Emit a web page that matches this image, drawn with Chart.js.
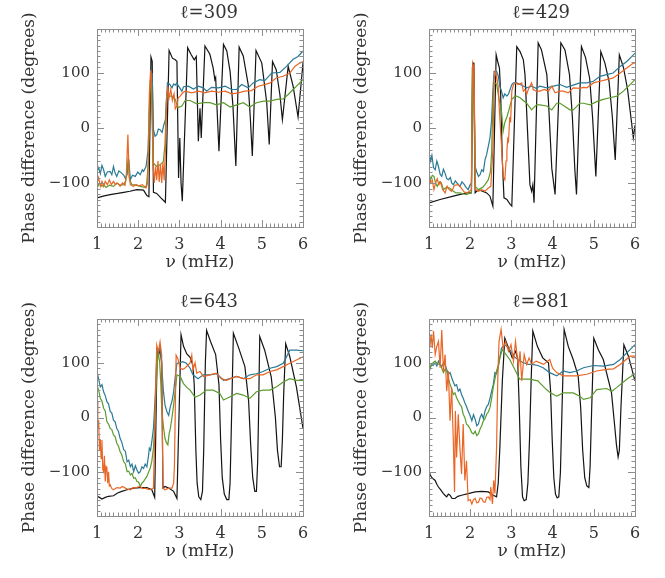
<!DOCTYPE html>
<html><head><meta charset="utf-8">
<script src="https://cdn.jsdelivr.net/npm/chart.js@4.4.1/dist/chart.umd.min.js"></script>
<style>
html,body{margin:0;padding:0;background:#fff;}
#wrap{position:relative;width:665px;height:578px;overflow:hidden;background:#fff;}
canvas{position:absolute;}
</style></head><body>
<div id="wrap">
<canvas id="c0" width="332" height="289" style="left:0px;top:0px"></canvas>
<canvas id="c1" width="333" height="289" style="left:332px;top:0px"></canvas>
<canvas id="c2" width="332" height="289" style="left:0px;top:289px"></canvas>
<canvas id="c3" width="333" height="289" style="left:332px;top:289px"></canvas>
</div>
<script>
// ---------- text / ticks ----------
const PANEL_TITLES = ['\u2113=309', '\u2113=429', '\u2113=643', '\u2113=881'];
const X_TICKS = [1, 2, 3, 4, 5, 6];
const Y_TICKS = [-100, 0, 100];
const X_TITLE = '\u03BD (mHz)';
const Y_TITLE = 'Phase difference (degrees)';

// ---------- data: [frequency mHz, phase difference deg] ----------
// l = 309
const k309 = [[1.00,-127],[1.15,-124],[1.32,-121],[1.50,-119],[1.65,-117],[1.80,-115],[1.97,-112],[2.13,-113],[2.21,-123],[2.26,-125],[2.31,129],[2.34,121],[2.37,-117],[2.45,-119],[2.55,-127],[2.66,-135],[2.75,141],[2.83,127],[2.90,124],[2.94,121],[2.98,-91],[3.01,-18],[3.04,-100],[3.07,-133],[3.20,146],[3.28,134],[3.36,124],[3.41,130],[3.46,-24],[3.50,36],[3.53,-18],[3.62,149],[3.74,134],[3.82,109],[3.86,88],[3.88,92],[3.96,-42],[4.07,152],[4.15,140],[4.23,103],[4.30,40],[4.37,-69],[4.45,147],[4.55,131],[4.67,79],[4.72,20],[4.77,-51],[4.86,141],[5.00,118],[5.12,46],[5.18,-30],[5.26,121],[5.35,106],[5.44,60],[5.50,15],[5.64,112],[5.76,76],[5.88,20],[6.00,118]];
const b309 = [[1.00,-79],[1.04,-72],[1.08,-83],[1.12,-68],[1.16,-76],[1.20,-88],[1.25,-80],[1.32,-79],[1.36,-85],[1.40,-70],[1.44,-82],[1.48,-88],[1.53,-78],[1.60,-82],[1.65,-86],[1.69,-92],[1.73,-85],[1.77,-57],[1.81,-94],[1.86,-86],[1.93,-88],[1.99,-80],[2.05,-85],[2.10,-76],[2.13,-79],[2.19,-70],[2.24,-40],[2.28,60],[2.31,85],[2.34,100],[2.37,-3],[2.41,-15],[2.45,-12],[2.49,-2],[2.53,-3],[2.58,-8],[2.62,5],[2.66,15],[2.71,82],[2.77,79],[2.82,73],[2.86,80],[2.90,78],[2.94,82],[2.98,76],[3.06,67],[3.10,75],[3.22,76],[3.34,71],[3.46,76],[3.58,73],[3.66,67],[3.78,74],[3.95,73],[4.11,76],[4.27,70],[4.39,70],[4.51,79],[4.67,73],[4.79,82],[4.95,88],[5.07,86],[5.24,100],[5.44,101],[5.60,112],[5.76,125],[5.88,130],[6.00,140]];
const o309 = [[1.00,-100],[1.04,-90],[1.08,-106],[1.12,-97],[1.16,-106],[1.20,-97],[1.25,-103],[1.30,-94],[1.35,-103],[1.40,-97],[1.45,-103],[1.50,-100],[1.56,-106],[1.62,-100],[1.68,-104],[1.71,-88],[1.75,-12],[1.78,-88],[1.81,-103],[1.88,-106],[1.95,-103],[2.02,-105],[2.10,-103],[2.19,-109],[2.23,-100],[2.27,60],[2.30,105],[2.32,91],[2.36,-64],[2.39,-100],[2.42,-70],[2.45,-95],[2.48,-60],[2.51,-98],[2.54,-65],[2.57,-100],[2.60,-62],[2.63,-95],[2.66,-40],[2.69,60],[2.72,73],[2.75,55],[2.79,70],[2.83,50],[2.87,62],[2.90,35],[2.94,40],[2.97,55],[3.02,58],[3.08,64],[3.14,67],[3.30,64],[3.46,67],[3.62,64],[3.78,67],[3.95,65],[4.11,67],[4.27,62],[4.43,64],[4.59,67],[4.75,68],[4.91,76],[5.07,79],[5.20,82],[5.35,91],[5.52,94],[5.68,100],[5.80,112],[5.92,118],[6.00,121]];
const g309 = [[1.00,-109],[1.06,-100],[1.12,-106],[1.16,-103],[1.22,-108],[1.30,-104],[1.40,-106],[1.48,-100],[1.56,-104],[1.65,-103],[1.70,-95],[1.73,-76],[1.76,-52],[1.79,-94],[1.85,-103],[1.95,-104],[2.05,-106],[2.15,-108],[2.20,-105],[2.25,-60],[2.29,82],[2.32,76],[2.37,-64],[2.45,-70],[2.53,-67],[2.61,-61],[2.65,-30],[2.69,58],[2.73,58],[2.82,58],[2.90,52],[2.96,37],[3.06,40],[3.14,50],[3.26,50],[3.42,44],[3.58,46],[3.74,46],[3.90,42],[4.07,46],[4.23,38],[4.39,42],[4.55,46],[4.71,38],[4.87,46],[5.04,49],[5.20,49],[5.36,52],[5.52,53],[5.64,61],[5.76,70],[5.88,79],[6.00,88]];

// l = 429
const k429 = [[1.00,-136],[1.27,-130],[1.59,-124],[1.91,-118],[2.03,-118],[2.06,118],[2.09,118],[2.12,-118],[2.20,-112],[2.30,-115],[2.40,-118],[2.48,-124],[2.55,-142],[2.63,133],[2.67,120],[2.71,109],[2.74,60],[2.78,-60],[2.82,-127],[2.89,-130],[2.97,-139],[3.01,-142],[3.13,148],[3.21,139],[3.29,124],[3.33,97],[3.45,-103],[3.49,-115],[3.52,-103],[3.55,-136],[3.65,155],[3.73,142],[3.86,97],[3.90,48],[3.98,-73],[4.06,-121],[4.20,155],[4.30,142],[4.41,97],[4.48,20],[4.54,-76],[4.58,-121],[4.70,148],[4.80,128],[4.90,90],[4.97,20],[5.05,-88],[5.17,139],[5.27,118],[5.37,85],[5.45,20],[5.52,-58],[5.62,133],[5.72,110],[5.82,70],[5.90,20],[5.96,-18],[6.00,5]];
const b429 = [[1.00,-45],[1.04,-60],[1.07,-50],[1.11,-72],[1.15,-76],[1.19,-60],[1.23,-70],[1.27,-84],[1.31,-88],[1.35,-75],[1.39,-82],[1.43,-92],[1.47,-94],[1.52,-90],[1.55,-100],[1.59,-103],[1.64,-96],[1.68,-100],[1.75,-106],[1.80,-98],[1.86,-103],[1.90,-108],[1.95,-112],[2.00,-103],[2.03,-100],[2.06,100],[2.09,90],[2.12,-70],[2.16,-80],[2.20,-88],[2.24,-85],[2.28,-76],[2.32,-79],[2.36,-58],[2.40,-48],[2.44,-33],[2.48,-18],[2.52,15],[2.55,67],[2.58,103],[2.64,103],[2.68,95],[2.72,76],[2.76,67],[2.80,55],[2.84,62],[2.89,58],[2.93,62],[3.01,79],[3.05,82],[3.13,82],[3.21,79],[3.30,76],[3.37,73],[3.49,76],[3.60,72],[3.69,76],[3.86,73],[4.02,76],[4.18,79],[4.34,74],[4.50,78],[4.66,82],[4.83,82],[4.99,85],[5.15,94],[5.31,97],[5.47,100],[5.64,112],[5.80,121],[5.96,133],[6.00,136]];
const o429 = [[1.00,-88],[1.04,-100],[1.08,-95],[1.12,-112],[1.16,-100],[1.20,-92],[1.24,-103],[1.28,-98],[1.33,-112],[1.39,-118],[1.44,-106],[1.49,-112],[1.55,-115],[1.62,-104],[1.71,-103],[1.78,-109],[1.85,-116],[1.92,-118],[1.98,-115],[2.03,-112],[2.06,118],[2.09,110],[2.13,-112],[2.20,-115],[2.28,-112],[2.36,-115],[2.44,-109],[2.50,-106],[2.55,-40],[2.58,88],[2.61,103],[2.64,94],[2.68,76],[2.71,30],[2.74,-9],[2.77,-45],[2.80,-88],[2.84,-94],[2.87,-60],[2.89,-42],[2.91,-20],[2.93,-24],[2.96,20],[2.98,10],[3.01,67],[3.05,79],[3.10,82],[3.17,79],[3.25,82],[3.29,67],[3.33,70],[3.37,61],[3.42,72],[3.49,82],[3.53,70],[3.60,67],[3.69,67],[3.80,70],[3.90,67],[3.98,76],[4.06,64],[4.18,67],[4.26,67],[4.38,64],[4.50,73],[4.66,72],[4.75,74],[4.83,73],[4.99,82],[5.15,85],[5.31,88],[5.47,91],[5.64,100],[5.80,109],[5.96,118],[6.00,118]];
const g429 = [[1.00,-82],[1.04,-94],[1.08,-86],[1.12,-88],[1.16,-100],[1.20,-106],[1.25,-98],[1.30,-100],[1.35,-112],[1.42,-108],[1.50,-109],[1.58,-114],[1.65,-118],[1.75,-118],[1.85,-120],[1.91,-121],[2.00,-118],[2.03,-118],[2.05,106],[2.08,100],[2.12,-106],[2.20,-112],[2.30,-108],[2.36,-103],[2.44,-94],[2.49,-80],[2.52,-45],[2.55,48],[2.58,82],[2.64,80],[2.71,48],[2.76,30],[2.80,-6],[2.84,10],[2.89,20],[2.93,30],[3.01,52],[3.09,58],[3.13,58],[3.21,55],[3.37,45],[3.49,33],[3.53,36],[3.61,42],[3.69,42],[3.86,40],[3.98,33],[4.10,45],[4.18,45],[4.30,39],[4.42,33],[4.50,33],[4.58,39],[4.66,45],[4.75,45],[4.91,42],[5.07,48],[5.23,52],[5.39,55],[5.56,58],[5.72,67],[5.88,79],[6.00,88]];

// l = 643
const k643 = [[1.00,-144],[1.06,-146],[1.12,-149],[1.20,-146],[1.28,-144],[1.40,-143],[1.50,-138],[1.60,-135],[1.73,-132],[1.89,-129],[2.05,-128],[2.21,-128],[2.33,-132],[2.40,-146],[2.46,122],[2.50,115],[2.53,125],[2.57,102],[2.60,-129],[2.65,-126],[2.74,-129],[2.86,-135],[2.94,-148],[3.04,151],[3.10,130],[3.18,116],[3.26,110],[3.33,95],[3.36,60],[3.40,-60],[3.43,-120],[3.47,-145],[3.52,-150],[3.56,-135],[3.59,-60],[3.63,100],[3.66,159],[3.76,138],[3.88,115],[3.96,60],[4.00,-40],[4.04,-110],[4.09,-140],[4.15,-150],[4.20,-150],[4.23,-120],[4.26,-20],[4.31,154],[4.43,129],[4.59,93],[4.68,30],[4.73,-50],[4.78,-110],[4.83,-135],[4.87,-135],[4.90,-80],[4.92,0],[4.95,148],[5.07,123],[5.23,74],[5.33,0],[5.38,-60],[5.43,-90],[5.47,-90],[5.50,-40],[5.53,40],[5.58,135],[5.68,111],[5.84,56],[6.00,-20]];
const b643 = [[1.00,84],[1.04,70],[1.08,56],[1.12,60],[1.16,47],[1.20,40],[1.24,29],[1.28,25],[1.32,11],[1.36,8],[1.40,-5],[1.44,-8],[1.48,-20],[1.52,-25],[1.56,-38],[1.60,-45],[1.65,-59],[1.69,-62],[1.73,-81],[1.77,-78],[1.81,-90],[1.85,-85],[1.89,-99],[1.93,-88],[1.97,-96],[2.01,-102],[2.05,-99],[2.09,-90],[2.13,-93],[2.17,-85],[2.21,-90],[2.25,-70],[2.27,-56],[2.30,-60],[2.33,-44],[2.37,-20],[2.41,35],[2.44,90],[2.46,126],[2.50,120],[2.53,129],[2.57,96],[2.61,50],[2.65,23],[2.70,10],[2.74,4],[2.78,20],[2.82,30],[2.86,47],[2.90,75],[2.94,99],[3.01,100],[3.08,102],[3.17,99],[3.26,90],[3.33,78],[3.45,71],[3.58,78],[3.74,78],[3.90,80],[4.07,68],[4.23,71],[4.39,75],[4.55,71],[4.71,78],[4.87,80],[5.03,84],[5.20,90],[5.36,93],[5.52,99],[5.68,123],[5.84,123],[6.00,122]];
const o643 = [[1.00,30],[1.02,-20],[1.04,-5],[1.06,-60],[1.08,-40],[1.10,-75],[1.12,-41],[1.14,-95],[1.16,-99],[1.18,-70],[1.20,-117],[1.22,-90],[1.24,-93],[1.26,-120],[1.28,-99],[1.30,-125],[1.32,-123],[1.36,-130],[1.40,-132],[1.48,-128],[1.56,-129],[1.62,-126],[1.69,-129],[1.75,-131],[1.81,-132],[1.87,-128],[1.93,-129],[1.99,-127],[2.05,-126],[2.11,-130],[2.17,-129],[2.23,-131],[2.29,-132],[2.37,-129],[2.41,5],[2.45,132],[2.49,120],[2.53,138],[2.57,114],[2.60,-129],[2.65,-132],[2.74,-129],[2.82,-129],[2.86,-120],[2.88,-87],[2.92,114],[2.96,108],[3.02,90],[3.08,88],[3.13,90],[3.20,95],[3.26,100],[3.30,114],[3.33,87],[3.38,100],[3.42,81],[3.50,84],[3.58,75],[3.74,78],[3.90,81],[4.02,71],[4.15,68],[4.23,71],[4.39,75],[4.55,71],[4.71,71],[4.87,78],[5.03,78],[5.20,84],[5.36,87],[5.52,93],[5.68,99],[5.84,105],[6.00,111]];
const g643 = [[1.00,59],[1.04,50],[1.08,35],[1.12,30],[1.16,17],[1.20,12],[1.24,-8],[1.28,-12],[1.32,-20],[1.36,-22],[1.40,-32],[1.44,-35],[1.48,-47],[1.52,-52],[1.56,-62],[1.60,-68],[1.65,-81],[1.69,-85],[1.73,-99],[1.77,-98],[1.81,-105],[1.85,-102],[1.89,-111],[1.93,-110],[1.97,-117],[2.01,-118],[2.05,-126],[2.09,-120],[2.13,-117],[2.17,-112],[2.21,-108],[2.25,-100],[2.29,-93],[2.33,-80],[2.37,-56],[2.41,0],[2.44,65],[2.48,120],[2.52,102],[2.55,60],[2.57,17],[2.61,-15],[2.65,-38],[2.68,-45],[2.72,-50],[2.75,-30],[2.78,-20],[2.82,0],[2.86,23],[2.90,50],[2.94,78],[3.02,75],[3.10,62],[3.18,55],[3.26,50],[3.38,37],[3.50,41],[3.66,50],[3.82,50],[3.98,44],[4.07,32],[4.23,38],[4.39,44],[4.55,41],[4.71,35],[4.87,47],[5.03,50],[5.20,50],[5.36,56],[5.52,65],[5.68,71],[5.84,68],[6.00,68]];

// l = 881
const k881 = [[1.00,-97],[1.03,-105],[1.06,-109],[1.10,-112],[1.15,-115],[1.19,-122],[1.23,-127],[1.28,-132],[1.35,-139],[1.40,-143],[1.43,-145],[1.47,-140],[1.51,-142],[1.56,-148],[1.63,-148],[1.70,-144],[1.79,-142],[1.95,-139],[2.12,-136],[2.28,-135],[2.44,-136],[2.56,-142],[2.64,-145],[2.68,-120],[2.72,-55],[2.78,67],[2.84,145],[2.93,127],[3.02,109],[3.10,121],[3.15,109],[3.19,20],[3.23,-90],[3.27,-145],[3.31,-152],[3.36,-150],[3.40,-120],[3.44,-40],[3.48,70],[3.52,158],[3.63,130],[3.76,109],[3.90,100],[3.95,50],[3.99,-40],[4.03,-110],[4.07,-140],[4.11,-147],[4.15,-145],[4.19,-100],[4.23,20],[4.28,161],[4.38,130],[4.50,106],[4.62,76],[4.68,20],[4.73,-60],[4.78,-110],[4.83,-125],[4.88,-128],[4.91,-90],[4.95,20],[5.00,145],[5.11,124],[5.23,106],[5.43,45],[5.50,-10],[5.55,-50],[5.59,-72],[5.62,-60],[5.66,20],[5.73,133],[5.84,112],[6.00,67]];
const b881 = [[1.00,85],[1.03,92],[1.06,97],[1.10,95],[1.15,100],[1.19,94],[1.23,103],[1.27,96],[1.31,94],[1.35,99],[1.39,97],[1.43,88],[1.47,79],[1.51,82],[1.55,73],[1.59,65],[1.63,58],[1.67,60],[1.71,48],[1.75,52],[1.79,42],[1.83,35],[1.87,27],[1.91,20],[1.95,12],[1.99,5],[2.04,-6],[2.08,5],[2.12,-3],[2.16,-15],[2.20,-12],[2.24,0],[2.28,6],[2.32,-2],[2.36,12],[2.40,20],[2.44,24],[2.48,35],[2.52,48],[2.56,60],[2.60,82],[2.64,80],[2.68,91],[2.72,110],[2.76,127],[2.84,133],[2.93,128],[3.05,112],[3.17,105],[3.29,100],[3.41,97],[3.51,97],[3.64,95],[3.77,91],[3.93,82],[4.10,76],[4.26,85],[4.42,82],[4.58,85],[4.75,91],[4.99,95],[5.23,94],[5.48,97],[5.64,106],[5.88,124],[6.00,133]];
const o881 = [[1.00,148],[1.03,135],[1.05,152],[1.08,127],[1.11,158],[1.15,115],[1.19,130],[1.23,139],[1.27,91],[1.31,160],[1.35,85],[1.39,115],[1.43,48],[1.47,85],[1.51,-6],[1.55,55],[1.59,-42],[1.62,-136],[1.64,12],[1.67,-73],[1.71,6],[1.75,-55],[1.79,-103],[1.83,-12],[1.87,-115],[1.91,-79],[1.95,-152],[2.00,-150],[2.04,-158],[2.08,-150],[2.12,-148],[2.16,-156],[2.20,-155],[2.24,-147],[2.28,-148],[2.32,-154],[2.36,-155],[2.40,-146],[2.44,-145],[2.48,-150],[2.50,-127],[2.54,-158],[2.57,-115],[2.60,-139],[2.64,-55],[2.67,73],[2.70,139],[2.75,161],[2.80,127],[2.86,139],[2.93,121],[2.99,133],[3.05,103],[3.10,139],[3.17,91],[3.21,121],[3.25,67],[3.31,115],[3.37,97],[3.43,109],[3.49,97],[3.60,103],[3.78,97],[3.93,106],[4.00,90],[4.10,82],[4.26,76],[4.58,76],[4.83,79],[5.07,85],[5.31,88],[5.48,89],[5.64,97],[5.88,112],[6.00,112]];
const g881 = [[1.00,82],[1.03,90],[1.06,97],[1.10,100],[1.15,103],[1.20,98],[1.27,97],[1.31,90],[1.35,82],[1.39,88],[1.43,85],[1.47,72],[1.51,61],[1.55,52],[1.59,42],[1.63,45],[1.67,36],[1.71,30],[1.75,24],[1.79,20],[1.83,6],[1.87,0],[1.91,-12],[1.95,-15],[2.00,-21],[2.04,-28],[2.08,-30],[2.12,-25],[2.16,-33],[2.20,-30],[2.24,-21],[2.28,-15],[2.32,-6],[2.36,-2],[2.40,6],[2.44,10],[2.48,18],[2.52,35],[2.56,55],[2.60,70],[2.64,85],[2.68,95],[2.72,109],[2.78,124],[2.84,118],[2.96,106],[3.08,88],[3.20,70],[3.33,70],[3.44,70],[3.64,67],[3.85,51],[3.95,45],[4.10,39],[4.26,45],[4.50,45],[4.66,39],[4.75,33],[4.91,36],[5.07,51],[5.31,53],[5.44,48],[5.56,55],[5.80,70],[6.00,80]];

// ---------- styling ----------
const SERIF = '"DejaVu Serif", "Liberation Serif", serif';
const TEXT = '#333333';
const FRAME = '#8c8c8c';
const COL = { black: '#141414', blue: '#2a7a96', orange: '#ea6624', green: '#5c9c2e' };

const PANELS = [
  { id: 'c0', title: PANEL_TITLES[0], k: k309, b: b309, o: o309, g: g309, right: 29, top: 29 },
  { id: 'c1', title: PANEL_TITLES[1], k: k429, b: b429, o: o429, g: g429, right: 30, top: 29 },
  { id: 'c2', title: PANEL_TITLES[2], k: k643, b: b643, o: o643, g: g643, right: 29, top: 30 },
  { id: 'c3', title: PANEL_TITLES[3], k: k881, b: b881, o: o881, g: g881, right: 30, top: 30 }
];

const frameTicks = {
  id: 'frameTicks',
  afterDatasetsDraw(chart) {
    const { ctx, chartArea: a, scales } = chart;
    const xs = scales.x, ys = scales.y;
    ctx.save();
    ctx.strokeStyle = FRAME;
    ctx.lineWidth = 1;
    ctx.beginPath();
    for (let i = 0; i <= 50; i++) {
      const px = Math.round(xs.getPixelForValue(1 + i / 10)) + 0.5;
      const len = (i % 10 === 0) ? 7 : 3.5;
      ctx.moveTo(px, a.bottom); ctx.lineTo(px, a.bottom - len);
      ctx.moveTo(px, a.top); ctx.lineTo(px, a.top + len);
    }
    for (let v = -180; v <= 180; v += 10) {
      const py = Math.round(ys.getPixelForValue(v)) + 0.5;
      const len = (v % 100 === 0) ? 7 : 3.5;
      ctx.moveTo(a.left, py); ctx.lineTo(a.left + len, py);
      ctx.moveTo(a.right, py); ctx.lineTo(a.right - len, py);
    }
    ctx.stroke();
    ctx.strokeRect(Math.round(a.left) + 0.5, Math.round(a.top) + 0.5,
                   Math.round(a.right - a.left), Math.round(a.bottom - a.top));
    ctx.restore();
  }
};

function ds(pairs, color) {
  return {
    data: pairs.map(p => ({ x: p[0], y: p[1] })),
    borderColor: color, borderWidth: 1.2, pointRadius: 0, tension: 0, fill: false
  };
}

PANELS.forEach(p => {
  new Chart(document.getElementById(p.id), {
    type: 'line',
    data: { datasets: [ds(p.o, COL.orange), ds(p.g, COL.green), ds(p.b, COL.blue), ds(p.k, COL.black)] },
    options: {
      responsive: false, animation: false, events: [],
      layout: { autoPadding: false, padding: { left: 0, right: p.right, top: 0, bottom: 0 } },
      plugins: {
        legend: { display: false }, tooltip: { enabled: false },
        title: { display: true, fullSize: false, text: '\u2003' + p.title, color: TEXT,
                 font: { family: SERIF, size: 18, weight: 'normal', lineHeight: 1.2 },
                 padding: { top: 3, bottom: p.top - 3 - 21.6 } }
      },
      scales: {
        x: {
          type: 'linear', min: 1, max: 6,
          afterBuildTicks: s => { s.ticks = X_TICKS.map(v => ({ value: v })); },
          afterFit: s => { s.height = 62; },
          grid: { display: false, drawTicks: false }, border: { display: false },
          ticks: { color: TEXT, font: { family: SERIF, size: 16 }, padding: 8, maxRotation: 0, autoSkip: false },
          title: { display: true, text: X_TITLE, color: TEXT, font: { family: SERIF, size: 17, lineHeight: 1.2 }, padding: { top: 0, bottom: 16 } }
        },
        y: {
          type: 'linear', min: -180, max: 180,
          afterBuildTicks: s => { s.ticks = Y_TICKS.map(v => ({ value: v })); },
          afterFit: s => { s.width = 97; },
          grid: { display: false, drawTicks: false }, border: { display: false },
          ticks: { color: TEXT, font: { family: SERIF, size: 15 }, padding: 7,
                   callback: v => (v < 0 ? '\u2212' + Math.abs(v) : String(v)) },
          title: { display: true, text: Y_TITLE, color: TEXT, font: { family: SERIF, size: 17, lineHeight: 1.2 }, padding: { top: 19, bottom: 0 } }
        }
      }
    },
    plugins: [frameTicks]
  });
});
</script>
</body></html>
